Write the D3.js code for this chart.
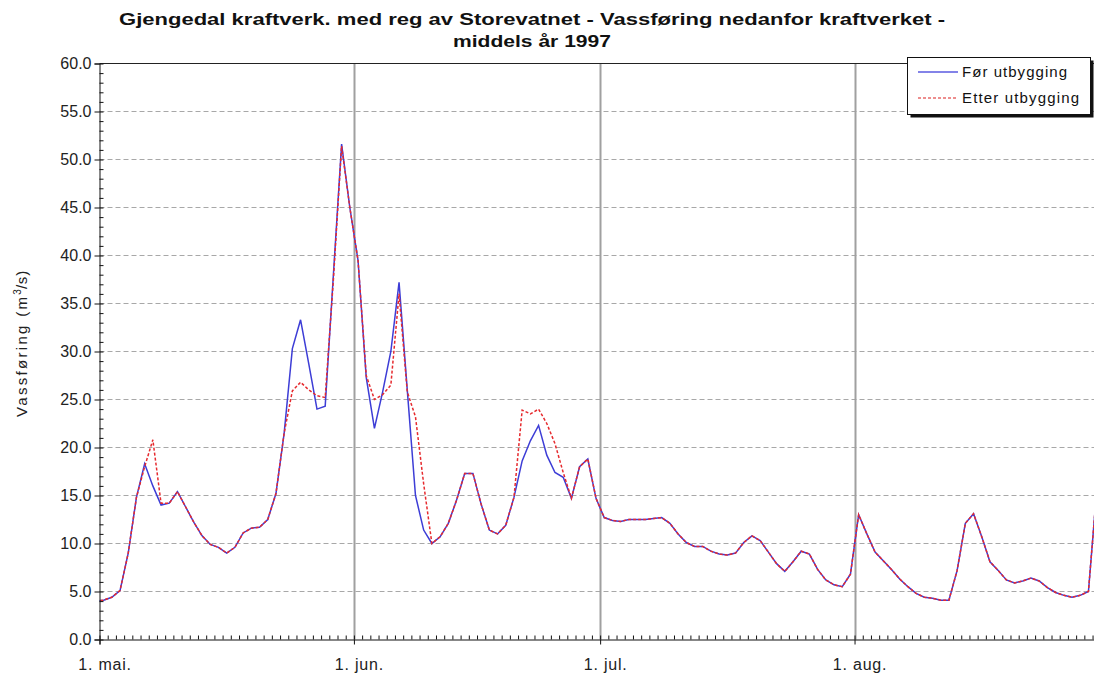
<!DOCTYPE html>
<html>
<head>
<meta charset="utf-8">
<script src="https://cdn.jsdelivr.net/npm/d3@7"></script>
<style>
  body { margin: 0; background: #fff; }
  svg { display: block; font-family: "Liberation Sans", Arial, sans-serif; }
</style>
</head>
<body>
<svg id="chart" width="1094" height="675"></svg>
<script>
// Daily mean discharge (m3/s), first value is 30 April 1997
const forUtbygging = [
  4.0,
  4.1, 4.4, 5.1, 9.0, 14.8, 18.3, 16.0, 14.0, 14.2, 15.4,
  13.8, 12.2, 10.8, 9.9, 9.6, 9.0, 9.6, 11.1, 11.6, 11.7,
  12.5, 15.2, 21.5, 30.3, 33.3, 28.7, 24.0, 24.3, 38.0, 51.6,
  45.0, 39.5, 27.3, 22.0, 25.8, 30.0, 37.2, 26.0, 15.0, 11.4,
  10.0, 10.7, 12.1, 14.5, 17.3, 17.3, 14.1, 11.4, 11.0, 11.9,
  14.8, 18.6, 20.7, 22.3, 19.2, 17.4, 16.9, 14.7, 18.0, 18.8,
  14.7, 12.7, 12.4, 12.3, 12.5, 12.5, 12.5, 12.6, 12.7, 12.1,
  11.0, 10.1, 9.7, 9.7, 9.2, 8.9, 8.8, 9.0, 10.1, 10.8,
  10.3, 9.1, 7.9, 7.1, 8.1, 9.2, 8.9, 7.3, 6.2, 5.7,
  5.5, 6.8, 13.0, 11.0, 9.1, 8.2, 7.3, 6.3, 5.5, 4.8,
  4.4, 4.3, 4.1, 4.1, 7.2, 12.1, 13.1, 10.7, 8.1, 7.2,
  6.2, 5.9, 6.1, 6.4, 6.1, 5.4, 4.9, 4.6, 4.4, 4.6,
  5.0, 15.5
];
const etterUtbygging = [
  4.0,
  4.1, 4.4, 5.1, 9.0, 14.8, 18.0, 20.8, 14.2, 14.2, 15.4,
  13.8, 12.2, 10.8, 9.9, 9.6, 9.0, 9.6, 11.1, 11.6, 11.7,
  12.5, 15.2, 21.5, 25.9, 26.8, 26.0, 25.4, 25.2, 37.5, 51.4,
  45.0, 39.5, 27.5, 25.0, 25.5, 26.5, 36.0, 25.8, 23.2, 16.2,
  10.0, 10.7, 12.1, 14.5, 17.3, 17.3, 14.1, 11.4, 11.0, 11.9,
  14.8, 23.9, 23.5, 24.0, 22.5, 20.4, 17.4, 14.7, 18.0, 18.8,
  14.7, 12.7, 12.4, 12.3, 12.5, 12.5, 12.5, 12.6, 12.7, 12.1,
  11.0, 10.1, 9.7, 9.7, 9.2, 8.9, 8.8, 9.0, 10.1, 10.8,
  10.3, 9.1, 7.9, 7.1, 8.1, 9.2, 8.9, 7.3, 6.2, 5.7,
  5.5, 6.8, 13.0, 11.0, 9.1, 8.2, 7.3, 6.3, 5.5, 4.8,
  4.4, 4.3, 4.1, 4.1, 7.2, 12.1, 13.1, 10.7, 8.1, 7.2,
  6.2, 5.9, 6.1, 6.4, 6.1, 5.4, 4.9, 4.6, 4.4, 4.6,
  5.0, 15.5
];
const monthStarts = [new Date(1997, 4, 1), new Date(1997, 5, 1), new Date(1997, 6, 1), new Date(1997, 7, 1)];
const monthLabels = ["1. mai.", "1. jun.", "1. jul.", "1. aug."];
const yTicks = [0, 5, 10, 15, 20, 25, 30, 35, 40, 45, 50, 55, 60];
const seriesNames = ["Før utbygging", "Etter utbygging"];
const titleLines = ["Gjengedal  kraftverk. med reg av Storevatnet - Vassføring nedanfor kraftverket -", "middels år 1997"];

const firstDay = new Date(1997, 3, 30);
const dates = forUtbygging.map((_, i) => d3.timeHour.offset(d3.timeDay.offset(firstDay, i), 12));

const svg = d3.select("#chart");
const plotLeft = 99.5, plotTop = 63.5, plotBottom = 639.5, dayPx = 8.207;
const blue = "#3d3dd6", red = "#e62a2e";

const x = d3.scaleTime()
  .domain([new Date(1997, 4, 1), new Date(1997, 7, 31)])
  .range([plotLeft, plotLeft + 122 * dayPx]);
const y = d3.scaleLinear().domain([0, 60]).range([plotBottom, plotTop]);

svg.append("defs").append("clipPath").attr("id", "plotclip")
  .append("rect").attr("x", plotLeft).attr("y", plotTop - 2)
  .attr("width", 1100 - plotLeft).attr("height", plotBottom - plotTop + 4);

// horizontal dashed grid
svg.append("g").selectAll("line").data(yTicks.filter(v => v > 0 && v < 60)).join("line")
  .attr("x1", plotLeft).attr("x2", 1094)
  .attr("y1", d => y(d)).attr("y2", d => y(d))
  .attr("stroke", "#a8a8a8").attr("stroke-dasharray", "5,3");

// vertical month grid
svg.append("g").selectAll("line").data(monthStarts.slice(1)).join("line")
  .attr("x1", d => Math.round(x(d)) + 0.5).attr("x2", d => Math.round(x(d)) + 0.5)
  .attr("y1", plotTop).attr("y2", plotBottom)
  .attr("stroke", "#a0a0a0").attr("stroke-width", 2);

// top border
svg.append("line").attr("x1", plotLeft).attr("x2", 1094).attr("y1", plotTop).attr("y2", plotTop)
  .attr("stroke", "#222").attr("stroke-width", 1);

// lines
const line = d3.line().x((d, i) => x(dates[i])).y(d => y(d));
const lines = svg.append("g").attr("clip-path", "url(#plotclip)");
lines.append("path").datum(forUtbygging)
  .attr("d", line).attr("fill", "none").attr("stroke", blue).attr("stroke-width", 1.5);
lines.append("path").datum(etterUtbygging)
  .attr("d", line).attr("fill", "none").attr("stroke", red).attr("stroke-width", 1.5)
  .attr("stroke-dasharray", "3,2");

// y axis
const yAxis = svg.append("g").attr("transform", `translate(${plotLeft},0)`)
  .call(d3.axisLeft(y).tickValues(yTicks).tickFormat(d3.format(".1f")).tickSize(5).tickPadding(3));
yAxis.select(".domain").attr("stroke", "#111");
yAxis.selectAll(".tick line").attr("stroke", "#111");
yAxis.selectAll("text").attr("font-size", 16).attr("fill", "#222");
svg.append("g").attr("transform", `translate(${plotLeft},0)`)
  .call(d3.axisRight(y).ticks(60).tickSize(4).tickFormat(""))
  .call(g => g.select(".domain").remove())
  .selectAll("line").attr("stroke", "#111");

// x axis
const xAxis = svg.append("g").attr("transform", `translate(0,${plotBottom})`)
  .call(d3.axisBottom(x).tickValues(monthStarts).tickFormat((d, i) => monthLabels[i]).tickSize(5).tickPadding(14));
xAxis.select(".domain").attr("stroke", "#111");
xAxis.selectAll(".tick line").attr("stroke", "#111");
xAxis.selectAll("text").attr("font-size", 16).attr("letter-spacing", 0.8).attr("fill", "#222").attr("dx", 5);
svg.append("g").attr("transform", `translate(0,${plotBottom})`)
  .call(d3.axisTop(x).ticks(d3.timeDay.every(1)).tickSize(4).tickFormat(""))
  .call(g => g.select(".domain").remove())
  .selectAll("line").attr("stroke", "#111");

// y axis title
const yTitle = svg.append("text")
  .attr("transform", `translate(27,${(plotTop + plotBottom) / 2 - 8}) rotate(-90)`)
  .attr("text-anchor", "middle").attr("font-size", 15).attr("fill", "#222");
yTitle.append("tspan").attr("textLength", 120).text("Vassføring (m");
yTitle.append("tspan").attr("font-size", 10).attr("dy", -6).text("3");
yTitle.append("tspan").attr("dy", 6).attr("letter-spacing", 0.8).text("/s)");

// title
svg.append("g").selectAll("text").data(titleLines).join("text")
  .attr("x", 532).attr("y", (d, i) => 25 + i * 22)
  .attr("text-anchor", "middle").attr("font-size", 17).attr("font-weight", "bold").attr("fill", "#111")
  .attr("textLength", (d, i) => i === 0 ? 826 : 158).attr("lengthAdjust", "spacingAndGlyphs")
  .text(d => d);

// legend
const legend = svg.append("g");
legend.append("rect").attr("x", 910.5).attr("y", 60.5).attr("width", 183).attr("height", 57).attr("fill", "#111");
legend.append("rect").attr("x", 907.5).attr("y", 57.5).attr("width", 183).attr("height", 57)
  .attr("fill", "#fff").attr("stroke", "#111");
const items = legend.selectAll("g.item").data(seriesNames).join("g").attr("class", "item")
  .attr("transform", (d, i) => `translate(0,${72 + i * 26})`);
items.append("line").attr("x1", 918).attr("x2", 958).attr("y1", 0).attr("y2", 0)
  .attr("stroke", (d, i) => i === 0 ? "#5a5ae0" : "#e86a6a").attr("stroke-width", 1.5)
  .attr("stroke-dasharray", (d, i) => i === 0 ? null : "3,2");
items.append("text").attr("x", 962).attr("y", 5).attr("font-size", 15).attr("fill", "#111")
  .attr("textLength", (d, i) => i === 0 ? 105 : 117).attr("lengthAdjust", "spacing")
  .text(d => d);
</script>
</body>
</html>
